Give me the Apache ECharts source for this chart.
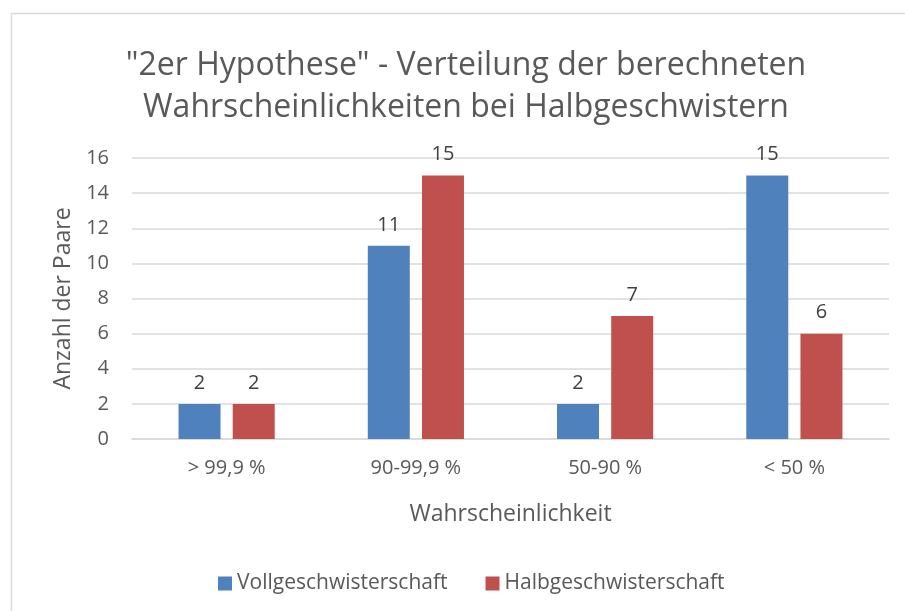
<!DOCTYPE html>
<html><head><meta charset="utf-8">
<script src="https://cdn.jsdelivr.net/npm/echarts@6/dist/echarts.min.js"></script>
<style>html,body{margin:0;padding:0;background:#fff}#c{width:905px;height:611px}</style>
</head><body><div id="c"></div>
<script>
const categories = ['> 99,9 %', '90-99,9 %', '50-90 %', '< 50 %'];
const vollValues = [2, 11, 2, 15];
const halbValues = [2, 15, 7, 6];
const seriesNames = ['Vollgeschwisterschaft', 'Halbgeschwisterschaft'];
const titleText = '"2er Hypothese" - Verteilung der berechneten\nWahrscheinlichkeiten bei Halbgeschwistern';

const FONT = 'Open Sans';
const chart = echarts.init(document.getElementById('c'), null, {renderer: 'canvas'});
const labelCfg = {show: true, position: 'top', distance: 11, color: '#404040', fontSize: 20, fontFamily: FONT};
chart.setOption({
  animation: false,
  backgroundColor: '#fff',
  graphic: [{type: 'rect', shape: {x: 11.5, y: 13.5, width: 1000, height: 700},
    style: {fill: 'none', stroke: '#d9d9d9', lineWidth: 1.5}, silent: true}],
  title: {text: titleText, left: 461, textAlign: 'center', top: 40,
    textStyle: {fontFamily: FONT, fontSize: 32, fontWeight: 'normal', color: '#595959', lineHeight: 42}},
  legend: {top: 568, left: 213, itemWidth: 14, itemHeight: 14, itemGap: 38,
    icon: 'rect', textStyle: {fontFamily: FONT, fontSize: 21, color: '#595959'}, data: seriesNames},
  grid: {left: 132, right: 16, top: 158, bottom: 172},
  xAxis: {type: 'category', data: categories,
    name: 'Wahrscheinlichkeit', nameLocation: 'middle', nameGap: 64,
    nameTextStyle: {fontFamily: FONT, fontSize: 23, color: '#595959'},
    axisLine: {lineStyle: {color: '#d9d9d9', width: 1.5}}, axisTick: {show: false},
    axisLabel: {fontFamily: FONT, fontSize: 20, color: '#595959', margin: 19}},
  yAxis: {type: 'value', min: 0, max: 16, interval: 2,
    name: 'Anzahl der Paare', nameLocation: 'middle', nameGap: 57,
    nameTextStyle: {fontFamily: FONT, fontSize: 23, color: '#595959', padding: [0, 0, -28, 0]},
    axisLine: {show: false}, axisTick: {show: false},
    axisLabel: {fontFamily: FONT, fontSize: 20, color: '#595959', margin: 23},
    splitLine: {lineStyle: {color: '#d9d9d9', width: 1.5}}},
  series: [
    {name: seriesNames[0], type: 'bar', data: vollValues, barWidth: 42, barGap: '29%',
      itemStyle: {color: '#4F81BD'}, label: labelCfg},
    {name: seriesNames[1], type: 'bar', data: halbValues, barWidth: 42,
      itemStyle: {color: '#C0504D'}, label: labelCfg}
  ]
});
</script></body></html>
